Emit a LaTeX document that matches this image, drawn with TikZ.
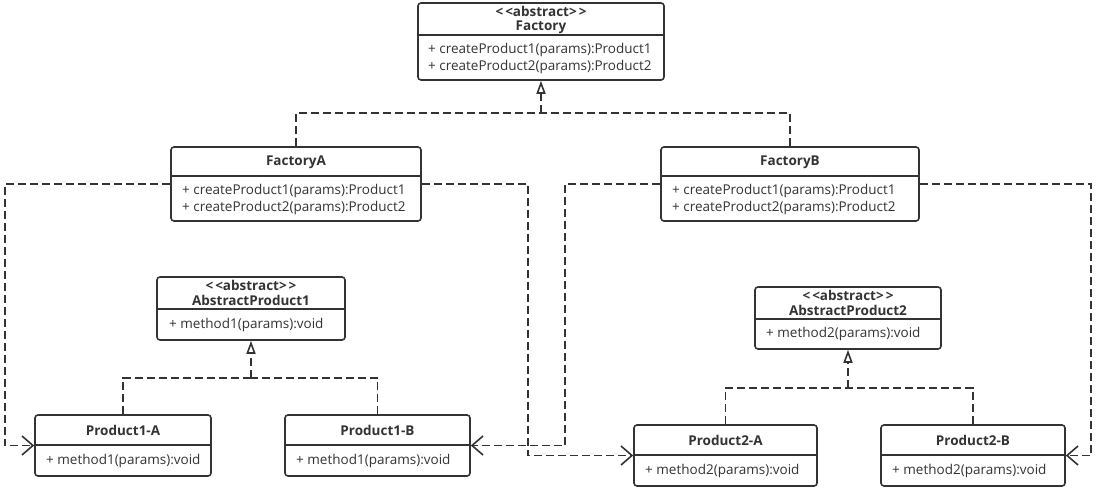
\documentclass[tikz,border=0pt]{standalone}
\usepackage{fontspec}
\setmainfont{Open Sans}
\usetikzlibrary{arrows.meta}

\definecolor{umlgray}{HTML}{333333}
\tikzset{
	classbox/.style={draw=umlgray, line width=1.6pt, rounded corners=3pt, inner sep=0pt},
	divider/.style={draw=umlgray, line width=1.6pt},
	title/.style={font=\bfseries\fontsize{13.5}{14.5}\selectfont, text=umlgray, inner sep=0pt, align=center},
	members/.style={font=\fontsize{13.5}{17}\selectfont, text=umlgray, inner sep=0pt, align=left, anchor=west},
	dashline/.style={draw=umlgray, line width=1.6pt, dash pattern=on 8pt off 4pt},
	realize/.style={dashline, -{Triangle[open, length=13pt, width=9pt, line width=1.6pt]}},
	depend/.style={dashline, -{Straight Barb[length=11pt, width=19pt, line width=1.6pt]}}
}
\newcommand{\stereo}{<\kern2pt<abstract>\kern2pt>}

\begin{document}
\begin{tikzpicture}[x=1pt,y=-1pt]
		\useasboundingbox (0,0) rectangle (1098,490);
		% abstract factory
		\node[classbox, minimum width=246, minimum height=77] (factory) at (541,41.5) {};
		\draw[divider] (factory.west |- 0,35) -- (factory.east |- 0,35);
		\node[title] (factory-t) at (541,20) {\stereo\\Factory};
		\node[members] (factory-m) at (428,58) {+ createProduct1(params):Product1\\+ createProduct2(params):Product2};
		% concrete factories
		\node[classbox, minimum width=250, minimum height=74] (factoryA) at (296,184) {};
		\draw[divider] (factoryA.west |- 0,176) -- (factoryA.east |- 0,176);
		\node[title] (factoryA-t) at (296,162) {FactoryA};
		\node[members] (factoryA-m) at (182,199) {+ createProduct1(params):Product1\\+ createProduct2(params):Product2};
		\node[classbox, minimum width=258, minimum height=74] (factoryB) at (790,184) {};
		\draw[divider] (factoryB.west |- 0,176) -- (factoryB.east |- 0,176);
		\node[title] (factoryB-t) at (790,162) {FactoryB};
		\node[members] (factoryB-m) at (672,199) {+ createProduct1(params):Product1\\+ createProduct2(params):Product2};
		% abstract products
		\node[classbox, minimum width=188, minimum height=63] (absprod1) at (251,308.5) {};
		\draw[divider] (absprod1.west |- 0,309) -- (absprod1.east |- 0,309);
		\node[title] (absprod1-t) at (251,293) {\stereo\\AbstractProduct1};
		\node[members] (absprod1-m) at (169,325) {+ method1(params):void};
		\node[classbox, minimum width=186, minimum height=62] (absprod2) at (848,318) {};
		\draw[divider] (absprod2.west |- 0,319) -- (absprod2.east |- 0,319);
		\node[title] (absprod2-t) at (848,303) {\stereo\\AbstractProduct2};
		\node[members] (absprod2-m) at (766,334) {+ method2(params):void};
		% products
		\node[classbox, minimum width=176, minimum height=61] (prod1A) at (123,445.5) {};
		\draw[divider] (prod1A.west |- 0,445) -- (prod1A.east |- 0,445);
		\node[title] (prod1A-t) at (123,430) {Product1-A};
		\node[members] (prod1A-m) at (46,461) {+ method1(params):void};
		\node[classbox, minimum width=185, minimum height=61] (prod1B) at (377.5,445.5) {};
		\draw[divider] (prod1B.west |- 0,445) -- (prod1B.east |- 0,445);
		\node[title] (prod1B-t) at (377.5,430) {Product1-B};
		\node[members] (prod1B-m) at (296,461) {+ method1(params):void};
		\node[classbox, minimum width=183, minimum height=61] (prod2A) at (725.5,455.5) {};
		\draw[divider] (prod2A.west |- 0,455) -- (prod2A.east |- 0,455);
		\node[title] (prod2A-t) at (725.5,440) {Product2-A};
		\node[members] (prod2A-m) at (645,471) {+ method2(params):void};
		\node[classbox, minimum width=184, minimum height=61] (prod2B) at (973,455.5) {};
		\draw[divider] (prod2B.west |- 0,455) -- (prod2B.east |- 0,455);
		\node[title] (prod2B-t) at (973,440) {Product2-B};
		\node[members] (prod2B-m) at (892,471) {+ method2(params):void};
		% realizations
		\coordinate (joinF) at (factory.south |- 0,113);
		\draw[dashline] (factoryA.north) |- (joinF);
		\draw[dashline] (factoryB.north) |- (joinF);
		\draw[realize] (joinF) -- (factory.south);
		\coordinate (joinP1) at (absprod1.south |- 0,378);
		\draw[dashline] (prod1A.north) |- (joinP1);
		\draw[dashline] (prod1B.north) |- (joinP1);
		\draw[realize] (joinP1) -- (absprod1.south);
		\coordinate (joinP2) at (absprod2.south |- 0,388);
		\draw[dashline] (prod2A.north) |- (joinP2);
		\draw[dashline] (prod2B.north) |- (joinP2);
		\draw[realize] (joinP2) -- (absprod2.south);
		% dependencies
		\draw[depend] (factoryA.west) -- (5,184) |- (prod1A.west);
		\draw[depend] (factoryA.east) -- (528,184) |- (prod2A.west);
		\draw[depend] (factoryB.west) -- (565,184) |- (prod1B.east);
		\draw[depend] (factoryB.east) -- (1091,184) |- (prod2B.east);
	\end{tikzpicture}
\end{document}
